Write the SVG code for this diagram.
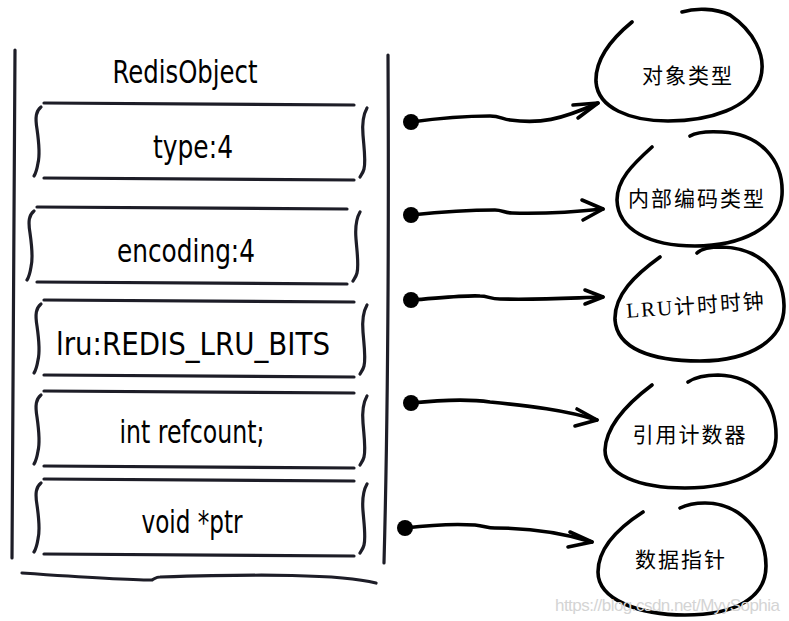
<svg xmlns="http://www.w3.org/2000/svg" width="789" height="621" viewBox="0 0 789 621">
<style>
.frame{fill:none;stroke:#1d1d27;stroke-width:3.2;stroke-linecap:round;stroke-linejoin:round}
.blob{fill:none;stroke:#000;stroke-width:3.6;stroke-linecap:round}
.conn{fill:none;stroke:#000;stroke-width:3.6;stroke-linecap:round;stroke-linejoin:round}
.hand{font-family:"DejaVu Sans Condensed","DejaVu Sans",sans-serif;font-stretch:condensed;font-size:32px;fill:#000;text-anchor:middle}
.cjk{font-family:"Liberation Serif","Noto Sans CJK SC",serif;font-size:21px;fill:#000;text-anchor:middle;letter-spacing:2px}
.wm{font-family:"Liberation Sans",sans-serif;font-size:17px;fill:#d4d4d4}
</style>
<defs>
<path id="lb" d="M41,4 C36,8 35,14 37,26 C39,40 40,52 38,60 C37,66 36,70 34,73"/>
<path id="rb" d="M367,5 C363,12 362,20 363,32 C364,45 366,58 364,66 C363,70 361,72 360,74"/>
<path id="tl" d="M44,0 L354,2"/>
<path id="bl" d="M44,75 L354,77"/>
</defs>
<g id="redisobject">
<path class="frame" d="M15,50 C14,200 13,400 12,558"/>
<path class="frame" d="M388,55 C389,250 387,450 384,563"/>
<path class="frame" d="M22,573 C80,577 130,580 152,580 C156,578 156,577 160,577 C260,574 340,574 376,583"/>
<text class="hand" x="185" y="83" textLength="145" lengthAdjust="spacingAndGlyphs">RedisObject</text>
</g>
<g id="field-type" transform="translate(0,103)">
<use href="#tl" class="frame"/><use href="#bl" class="frame"/><use href="#lb" class="frame"/><use href="#rb" class="frame"/>
<text class="hand" x="193" y="55" textLength="80" lengthAdjust="spacingAndGlyphs">type:4</text>
</g>
<g id="field-encoding" transform="translate(-7,207)">
<use href="#tl" class="frame"/><use href="#bl" class="frame"/><use href="#lb" class="frame"/><use href="#rb" class="frame"/>
<text class="hand" x="193" y="55" textLength="138" lengthAdjust="spacingAndGlyphs">encoding:4</text>
</g>
<g id="field-lru" transform="translate(0,300)">
<use href="#tl" class="frame"/><use href="#bl" class="frame"/><use href="#lb" class="frame"/><use href="#rb" class="frame"/>
<text class="hand" x="193" y="55" font-size="34" textLength="274" lengthAdjust="spacingAndGlyphs">lru:REDIS_LRU_BITS</text>
</g>
<g id="field-refcount" transform="translate(0,391)">
<use href="#tl" class="frame"/><use href="#bl" class="frame"/><use href="#lb" class="frame"/><use href="#rb" class="frame"/>
<text class="hand" x="192" y="52" textLength="145" lengthAdjust="spacingAndGlyphs">int refcount;</text>
</g>
<g id="field-ptr" transform="translate(0,479)">
<use href="#tl" class="frame"/><use href="#bl" class="frame"/><use href="#lb" class="frame"/><use href="#rb" class="frame"/>
<text class="hand" x="192" y="54" textLength="101" lengthAdjust="spacingAndGlyphs">void *ptr</text>
</g>
<g id="node-type">
<path class="blob" d="M632,22 C610,40 595,60 596,82 C598,108 630,121 668,121 C710,121 750,108 760,80 C768,55 752,30 730,15 C715,8 695,8 682,12"/>
<text class="cjk" x="688" y="83">对象类型</text>
</g>
<g id="node-encoding">
<path class="blob" d="M652,147 C632,165 617,180 617,200 C618,230 650,246 695,246 C740,246 780,228 782,195 C784,160 760,134 722,132 C705,131 695,133 690,136"/>
<text class="cjk" x="697" y="206">内部编码类型</text>
</g>
<g id="node-lru">
<path class="blob" d="M660,257 C635,275 614,295 615,320 C617,348 650,361 700,361 C750,361 785,340 784,305 C783,272 760,248 722,247 C708,247 700,250 697,253"/>
<text class="cjk" x="696" y="313" transform="rotate(-4 696 306)">LRU计时时钟</text>
</g>
<g id="node-refcount">
<path class="blob" d="M652,385 C628,403 606,425 605,450 C605,475 640,488 685,488 C735,488 775,470 776,438 C777,400 755,376 718,375 C704,375 694,378 688,382"/>
<text class="cjk" x="690" y="442">引用计数器</text>
</g>
<g id="node-ptr">
<path class="blob" d="M643,512 C615,530 598,550 598,572 C598,600 640,615 685,615 C735,615 766,598 766,566 C766,532 740,503 705,503 C694,503 686,505 680,508"/>
<text class="cjk" x="681" y="567">数据指针</text>
</g>
<g id="connectors">
<circle cx="411" cy="122" r="8"/>
<path class="conn" d="M411,122 C440,118 470,116 490,116 C500,116 502,119 510,120 C540,124 560,120 598,103"/>
<path class="conn" d="M573,105 L598,103 L578,118"/>
<circle cx="411" cy="215" r="8"/>
<path class="conn" d="M411,215 C440,212 470,210 495,210 C502,210 505,213 512,213 C550,214 575,212 603,209"/>
<path class="conn" d="M582,200 L603,209 L583,220"/>
<circle cx="411" cy="300" r="8"/>
<path class="conn" d="M411,300 C440,298 465,295 480,296 C488,296 490,299 500,299 C540,300 570,298 603,297"/>
<path class="conn" d="M585,290 L603,297 L585,304"/>
<circle cx="411" cy="403" r="8"/>
<path class="conn" d="M411,403 C440,400 470,399 490,402 C530,406 565,410 597,420"/>
<path class="conn" d="M577,409 L597,420 L575,426"/>
<circle cx="405" cy="528" r="8"/>
<path class="conn" d="M405,528 C430,525 460,524 475,525 C485,526 487,528 495,528 C530,528 560,532 592,542"/>
<path class="conn" d="M570,532 L592,542 L568,547"/>
</g>
<text class="wm" x="555" y="611" textLength="225">https://blog.csdn.net/MyySophia</text>
</svg>
